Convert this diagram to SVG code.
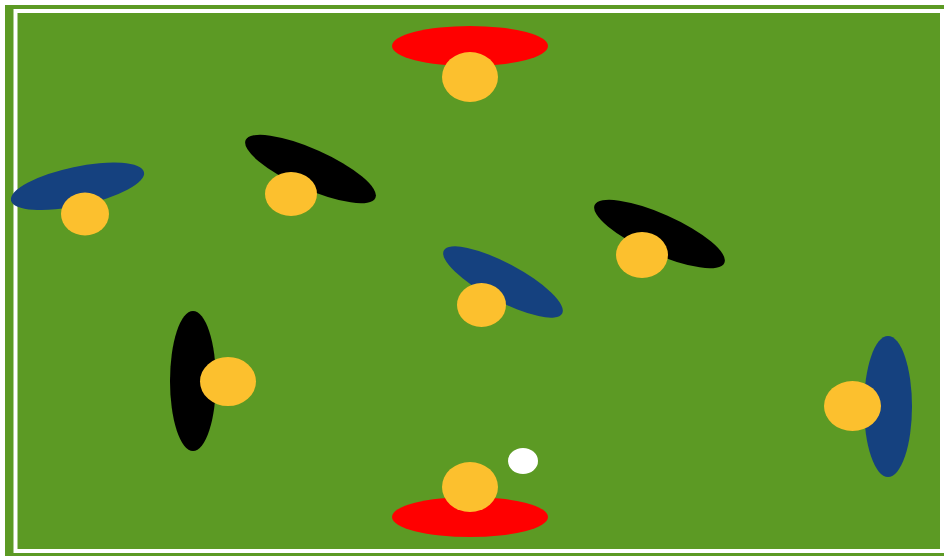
<svg xmlns="http://www.w3.org/2000/svg" width="944" height="558" viewBox="0 0 944 558">
<style>
.head{fill:#fcc02e}
.red{fill:#ff0000}
.blue{fill:#15417f}
.black{fill:#000000}
</style>
<rect x="0" y="0" width="944" height="558" fill="#ffffff"/>
<rect x="5" y="5" width="945" height="551" fill="#5c9a24"/>
<rect x="15.5" y="11" width="926.5" height="540" fill="none" stroke="#ffffff" stroke-width="4"/>
<g id="player-red-top">
<ellipse class="red" cx="470" cy="46" rx="78" ry="20"/>
<ellipse class="head" cx="470" cy="77" rx="28" ry="25"/>
</g>
<g id="player-blue-left">
<ellipse class="blue" cx="77.5" cy="186.3" rx="68" ry="19.5" transform="rotate(-12 77.5 186.3)"/>
<ellipse class="head" cx="85" cy="214" rx="24" ry="21.5"/>
</g>
<g id="player-black-1">
<ellipse class="black" cx="310.5" cy="169" rx="71" ry="20" transform="rotate(24 310.5 169)"/>
<ellipse class="head" cx="291" cy="194" rx="26" ry="22"/>
</g>
<g id="player-black-2">
<ellipse class="black" cx="659.5" cy="234" rx="71" ry="20" transform="rotate(24 659.5 234)"/>
<ellipse class="head" cx="642" cy="255" rx="26" ry="23"/>
</g>
<g id="player-blue-center">
<ellipse class="blue" cx="503" cy="282" rx="67" ry="19" transform="rotate(28 503 282)"/>
<ellipse class="head" cx="481.5" cy="305" rx="24.5" ry="22"/>
</g>
<g id="player-black-vertical">
<ellipse class="black" cx="193" cy="381" rx="23" ry="70"/>
<ellipse class="head" cx="228" cy="381.5" rx="28" ry="24.5"/>
</g>
<g id="player-blue-right">
<ellipse class="blue" cx="888" cy="406.5" rx="24" ry="70.5"/>
<ellipse class="head" cx="852.5" cy="406" rx="28.5" ry="25"/>
</g>
<g id="player-red-bottom">
<ellipse class="red" cx="470" cy="517" rx="78" ry="20"/>
<ellipse class="head" cx="470" cy="487" rx="28" ry="25"/>
</g>
<g id="ball">
<ellipse cx="523" cy="461" rx="15" ry="13" fill="#ffffff"/>
</g>
<g id="connectors"/>
</svg>
